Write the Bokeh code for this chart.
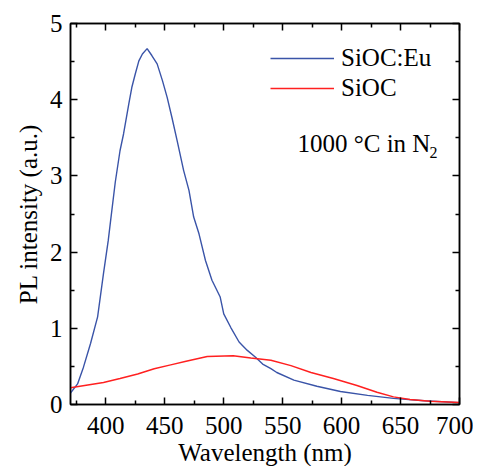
from bokeh.plotting import figure
from bokeh.models import (Range1d, FixedTicker, LinearAxis, Legend, LegendItem, Label,
                          CustomLabelingPolicy)
from bokeh.embed import file_html
from bokeh.resources import INLINE

# Data
wl_eu = [370, 376, 381, 387, 393, 398, 402, 404, 408, 412, 415, 419.5, 422, 425, 428, 431,
         435, 439, 443.5, 448, 452, 456, 460.5, 466, 470.5, 474.5, 479, 484.5, 490, 497, 500,
         506, 513, 520, 527, 533, 540, 545, 559.5, 579, 599, 622, 644, 670, 700]
int_eu = [0.15, 0.27, 0.49, 0.80, 1.15, 1.72, 2.15, 2.41, 2.92, 3.33, 3.55, 3.95, 4.16, 4.34,
          4.51, 4.60, 4.67, 4.58, 4.47, 4.25, 4.03, 3.77, 3.46, 3.07, 2.81, 2.46, 2.24, 1.89,
          1.63, 1.41, 1.19, 1.01, 0.82, 0.71, 0.62, 0.53, 0.47, 0.42, 0.32, 0.24, 0.17, 0.12,
          0.08, 0.05, 0.025]
wl_sioc = [370, 398, 412, 427, 441, 455, 469, 486, 508, 523, 540, 557, 574, 593, 613, 630,
           644, 658, 675, 700]
int_sioc = [0.22, 0.29, 0.34, 0.40, 0.47, 0.52, 0.57, 0.63, 0.64, 0.61, 0.58, 0.51, 0.42,
            0.34, 0.25, 0.16, 0.10, 0.066, 0.043, 0.025]
x_ticks = [400, 450, 500, 550, 600, 650, 700]
x_minor = [375, 425, 475, 525, 575, 625, 675]
y_ticks = [0, 1, 2, 3, 4, 5]
y_minor = [0.5, 1.5, 2.5, 3.5, 4.5]

FONT = "Liberation Serif"
FS = "25px"

p = figure(frame_width=389, frame_height=381, output_backend="svg", toolbar_location=None,
           x_range=Range1d(370, 700), y_range=Range1d(0, 5),
           min_border_left=70, min_border_right=11, min_border_top=23, min_border_bottom=54)
p.xgrid.visible = False
p.ygrid.visible = False
p.outline_line_color = "black"
p.outline_line_width = 1.5
p.background_fill_color = "white"
p.border_fill_color = "white"

r_eu = p.line(wl_eu, int_eu, line_color="#3a54a8", line_width=1.4)
r_si = p.line(wl_sioc, int_sioc, line_color="#ff2020", line_width=1.5)

hide_all = CustomLabelingPolicy(code="for (const i of Array.from(indices)) indices.unset(i); return indices")

def style(ax, ticks, minor, labels=True):
    ax.ticker = FixedTicker(ticks=ticks, minor_ticks=minor)
    ax.axis_line_color = "black"
    ax.axis_line_width = 1.5
    ax.major_tick_in = 7
    ax.major_tick_out = 0
    ax.minor_tick_in = 4
    ax.minor_tick_out = 0
    ax.major_tick_line_width = 1.5
    ax.minor_tick_line_width = 1.5
    ax.major_tick_line_color = "black"
    ax.minor_tick_line_color = "black"
    if labels:
        ax.major_label_text_font = FONT
        ax.major_label_text_font_size = FS
        ax.major_label_text_color = "black"
        ax.axis_label_text_font = FONT
        ax.axis_label_text_font_size = FS
        ax.axis_label_text_font_style = "normal"
        ax.axis_label_text_color = "black"
    else:
        ax.major_label_policy = hide_all

style(p.xaxis[0], x_ticks, x_minor)
style(p.yaxis[0], y_ticks, y_minor)
p.xaxis[0].axis_label = "Wavelength (nm)"
p.yaxis[0].axis_label = "PL intensity (a.u.)"
p.xaxis[0].major_label_standoff = 12
p.yaxis[0].major_label_standoff = 8
p.xaxis[0].axis_label_standoff = 2
p.yaxis[0].axis_label_standoff = 5

top = LinearAxis()
right = LinearAxis()
style(top, x_ticks, x_minor, labels=False)
style(right, y_ticks, y_minor, labels=False)
p.add_layout(top, "above")
p.add_layout(right, "right")

legend = Legend(items=[LegendItem(label="SiOC:Eu", renderers=[r_eu]),
                       LegendItem(label="SiOC", renderers=[r_si])],
                location=(200, 301), padding=0, margin=0, spacing=0,
                glyph_width=64, glyph_height=30, label_height=30, label_standoff=7,
                label_text_font=FONT, label_text_font_size=FS, label_text_color="black",
                border_line_color=None, background_fill_alpha=0)
p.add_layout(legend)

p.add_layout(Label(x=227, y=261, x_units="screen", y_units="screen", text="1000 °C in N",
                   text_font=FONT, text_font_size=FS, text_color="black",
                   text_baseline="alphabetic"))
p.add_layout(Label(x=359, y=252, x_units="screen", y_units="screen", text="2",
                   text_font=FONT, text_font_size="16px", text_color="black",
                   text_baseline="alphabetic"))

open("out.html", "w").write(file_html(p, INLINE))
